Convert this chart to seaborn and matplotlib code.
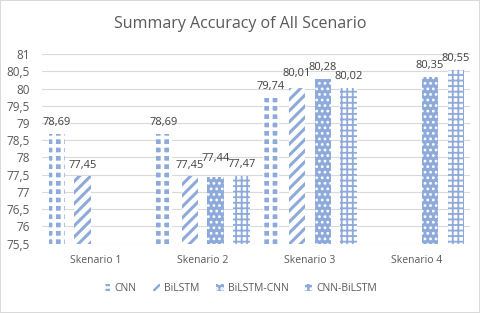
import matplotlib.pyplot as plt
import matplotlib.patches as mpatches
import numpy as np
import pandas as pd
import seaborn as sns

# data (nan = no bar)
scenarios = ["Skenario 1", "Skenario 2", "Skenario 3", "Skenario 4"]
models = ["CNN", "BiLSTM", "BiLSTM-CNN", "CNN-BiLSTM"]
cnn = [78.69, 78.69, 79.74, np.nan]
bilstm = [77.45, 77.45, 80.01, np.nan]
bilstm_cnn = [np.nan, 77.44, 80.28, 80.35]
cnn_bilstm = [np.nan, 77.47, 80.02, 80.55]

rows = []
for name, vals in zip(models, [cnn, bilstm, bilstm_cnn, cnn_bilstm]):
    for sk, v in zip(scenarios, vals):
        if not np.isnan(v):
            rows.append({"Skenario": sk, "Model": name, "Accuracy": v})
df = pd.DataFrame(rows)

sns.set_style("white")
plt.rcParams["font.family"] = ["Open Sans", "DejaVu Sans"]
plt.rcParams["hatch.linewidth"] = 1.8

blue = "#8eaadb"
grey = "#595959"
# facecolor, hatch colour, hatch pattern, hatch width
styles = {
    "CNN": (blue, "white", "++", 2.6),
    "BiLSTM": ("white", blue, "///", 2.2),
    "BiLSTM-CNN": (blue, "white", "...", 1.2),
    "CNN-BiLSTM": ("white", blue, "+++", 1.3),
}


def style_patch(p, name):
    fc, hc, h, lw = styles[name]
    p.set_facecolor(fc)
    p.set_edgecolor(hc)
    p.set_hatch(h)
    p.set_linewidth(0)
    if hasattr(p, "set_hatch_linewidth"):
        p.set_hatch_linewidth(lw)


fig = plt.figure(figsize=(4.8, 3.13), dpi=100, linewidth=1.2, edgecolor="#d9d9d9")
ax = fig.add_axes([0.088, 0.222, 0.892, 0.605])

sns.barplot(data=df, x="Skenario", y="Accuracy", hue="Model",
            order=scenarios, hue_order=models, width=0.97, gap=0.36,
            legend=False, ax=ax)

# Excel nudged a couple of crowded labels upward
nudge = {"77,44": 9, "80,01": 7}
for cont, name in zip(ax.containers, models):
    for bar in cont:
        style_patch(bar, name)
    texts = ax.bar_label(cont, fmt=lambda v: f"{v:.2f}".replace(".", ","),
                         padding=4, fontsize=8, color="#404040")
    for t in texts:
        if t.get_text() in nudge:
            t.set_position((0, nudge[t.get_text()]))

ax.set_ylim(75.5, 81)
yt = np.arange(75.5, 81.01, 0.5)
ax.set_yticks(yt)
ax.set_yticklabels([f"{t:g}".replace(".", ",") for t in yt], fontsize=8.5, color=grey)
ax.tick_params(axis="x", labelsize=7.5, labelcolor=grey, length=0, pad=8)
ax.tick_params(axis="y", length=0, pad=9)
ax.set_xlabel("")
ax.set_ylabel("")
ax.grid(axis="y", color="#d9d9d9", linewidth=0.8)
ax.set_axisbelow(True)
sns.despine(ax=ax, left=True, bottom=True)

fig.suptitle("Summary Accuracy of All Scenario", y=0.95, fontsize=11.5, color=grey)

handles = []
for name in models:
    p = mpatches.Patch(label=name)
    style_patch(p, name)
    handles.append(p)
fig.legend(handles=handles, loc="center", bbox_to_anchor=(0.5, 0.077), ncol=4,
           frameon=False, fontsize=7.5, handlelength=0.7, handleheight=0.7,
           handletextpad=0.4, columnspacing=1.6, labelcolor=grey)

fig.savefig("out.png", dpi=100, edgecolor=fig.get_edgecolor())
